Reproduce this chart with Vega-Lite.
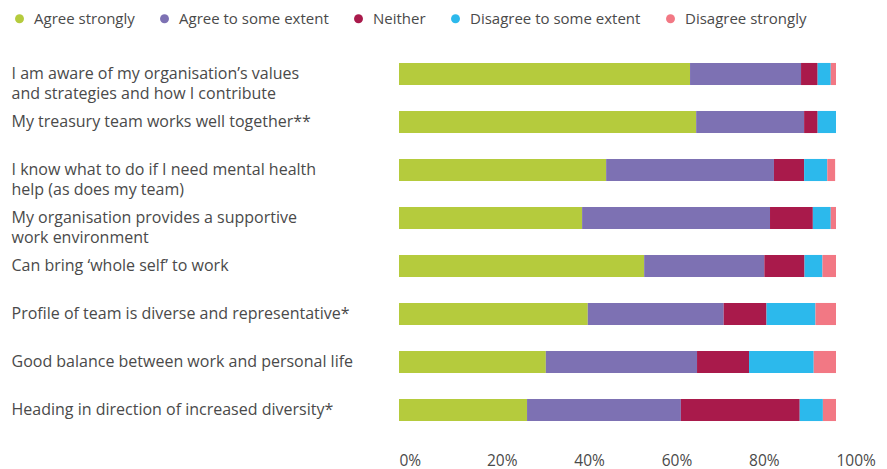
{
  "$schema": "https://vega.github.io/schema/vega-lite/v6.json",
  "width": 437,
  "height": 384,
  "autosize": {"type": "none"},
  "padding": {"left": 399, "top": 50, "right": 51, "bottom": 35},
  "background": "white",
  "config": {
    "view": {"stroke": null},
    "font": "Open Sans",
    "axis": {"labelFont": "Open Sans", "labelColor": "#4a4a4a"},
    "legend": {"labelFont": "Open Sans", "labelColor": "#4a4a4a"}
  },
  "data": {
    "values": [
      {"q": "I am aware of my organisation’s values|and strategies and how I contribute", "qi": 1, "cat": "Agree strongly", "k": 1, "v": 66.6},
      {"q": "I am aware of my organisation’s values|and strategies and how I contribute", "qi": 1, "cat": "Agree to some extent", "k": 2, "v": 25.4},
      {"q": "I am aware of my organisation’s values|and strategies and how I contribute", "qi": 1, "cat": "Neither", "k": 3, "v": 3.8},
      {"q": "I am aware of my organisation’s values|and strategies and how I contribute", "qi": 1, "cat": "Disagree to some extent", "k": 4, "v": 3.0},
      {"q": "I am aware of my organisation’s values|and strategies and how I contribute", "qi": 1, "cat": "Disagree strongly", "k": 5, "v": 1.2},
      {"q": "My treasury team works well together**", "qi": 2, "cat": "Agree strongly", "k": 1, "v": 68.0},
      {"q": "My treasury team works well together**", "qi": 2, "cat": "Agree to some extent", "k": 2, "v": 24.7},
      {"q": "My treasury team works well together**", "qi": 2, "cat": "Neither", "k": 3, "v": 3.1},
      {"q": "My treasury team works well together**", "qi": 2, "cat": "Disagree to some extent", "k": 4, "v": 4.2},
      {"q": "My treasury team works well together**", "qi": 2, "cat": "Disagree strongly", "k": 5, "v": 0},
      {"q": "I know what to do if I need mental health|help (as does my team)", "qi": 3, "cat": "Agree strongly", "k": 1, "v": 47.4},
      {"q": "I know what to do if I need mental health|help (as does my team)", "qi": 3, "cat": "Agree to some extent", "k": 2, "v": 38.4},
      {"q": "I know what to do if I need mental health|help (as does my team)", "qi": 3, "cat": "Neither", "k": 3, "v": 6.9},
      {"q": "I know what to do if I need mental health|help (as does my team)", "qi": 3, "cat": "Disagree to some extent", "k": 4, "v": 5.3},
      {"q": "I know what to do if I need mental health|help (as does my team)", "qi": 3, "cat": "Disagree strongly", "k": 5, "v": 1.8},
      {"q": "My organisation provides a supportive|work environment", "qi": 4, "cat": "Agree strongly", "k": 1, "v": 41.9},
      {"q": "My organisation provides a supportive|work environment", "qi": 4, "cat": "Agree to some extent", "k": 2, "v": 43.0},
      {"q": "My organisation provides a supportive|work environment", "qi": 4, "cat": "Neither", "k": 3, "v": 9.8},
      {"q": "My organisation provides a supportive|work environment", "qi": 4, "cat": "Disagree to some extent", "k": 4, "v": 4.1},
      {"q": "My organisation provides a supportive|work environment", "qi": 4, "cat": "Disagree strongly", "k": 5, "v": 1.2},
      {"q": "Can bring ‘whole self’ to work", "qi": 5, "cat": "Agree strongly", "k": 1, "v": 56.1},
      {"q": "Can bring ‘whole self’ to work", "qi": 5, "cat": "Agree to some extent", "k": 2, "v": 27.5},
      {"q": "Can bring ‘whole self’ to work", "qi": 5, "cat": "Neither", "k": 3, "v": 9.2},
      {"q": "Can bring ‘whole self’ to work", "qi": 5, "cat": "Disagree to some extent", "k": 4, "v": 4.1},
      {"q": "Can bring ‘whole self’ to work", "qi": 5, "cat": "Disagree strongly", "k": 5, "v": 3.1},
      {"q": "Profile of team is diverse and representative*", "qi": 6, "cat": "Agree strongly", "k": 1, "v": 43.2},
      {"q": "Profile of team is diverse and representative*", "qi": 6, "cat": "Agree to some extent", "k": 2, "v": 31.1},
      {"q": "Profile of team is diverse and representative*", "qi": 6, "cat": "Neither", "k": 3, "v": 9.8},
      {"q": "Profile of team is diverse and representative*", "qi": 6, "cat": "Disagree to some extent", "k": 4, "v": 11.2},
      {"q": "Profile of team is diverse and representative*", "qi": 6, "cat": "Disagree strongly", "k": 5, "v": 4.7},
      {"q": "Good balance between work and personal life", "qi": 7, "cat": "Agree strongly", "k": 1, "v": 33.6},
      {"q": "Good balance between work and personal life", "qi": 7, "cat": "Agree to some extent", "k": 2, "v": 34.6},
      {"q": "Good balance between work and personal life", "qi": 7, "cat": "Neither", "k": 3, "v": 11.9},
      {"q": "Good balance between work and personal life", "qi": 7, "cat": "Disagree to some extent", "k": 4, "v": 14.8},
      {"q": "Good balance between work and personal life", "qi": 7, "cat": "Disagree strongly", "k": 5, "v": 5.1},
      {"q": "Heading in direction of increased diversity*", "qi": 8, "cat": "Agree strongly", "k": 1, "v": 29.3},
      {"q": "Heading in direction of increased diversity*", "qi": 8, "cat": "Agree to some extent", "k": 2, "v": 35.2},
      {"q": "Heading in direction of increased diversity*", "qi": 8, "cat": "Neither", "k": 3, "v": 27.2},
      {"q": "Heading in direction of increased diversity*", "qi": 8, "cat": "Disagree to some extent", "k": 4, "v": 5.3},
      {"q": "Heading in direction of increased diversity*", "qi": 8, "cat": "Disagree strongly", "k": 5, "v": 3.0}
    ]
  },
  "mark": {"type": "bar"},
  "encoding": {
    "y": {
      "field": "q",
      "type": "nominal",
      "sort": {"field": "qi", "op": "min", "order": "ascending"},
      "scale": {"paddingInner": 0.54, "paddingOuter": 0.27},
      "axis": {
        "title": null,
        "domain": false,
        "ticks": false,
        "tickSize": 0,
        "labelAlign": "left",
        "labelBaseline": "top",
        "labelPadding": 388,
        "labelOffset": -8,
        "labelLimit": 390,
        "labelFontSize": 16,
        "labelLineHeight": 20,
        "labelExpr": "split(datum.value, '|')"
      }
    },
    "x": {
      "field": "v",
      "type": "quantitative",
      "stack": "zero",
      "scale": {"domain": [0, 100], "nice": false},
      "axis": {
        "title": null,
        "domain": false,
        "ticks": false,
        "tickSize": 0,
        "grid": false,
        "values": [0, 20, 40, 60, 80, 100],
        "labelExpr": "datum.value + '%'",
        "labelAlign": "left",
        "labelBaseline": "top",
        "labelPadding": 19,
        "labelFontSize": 15.5,
        "labelFlush": false,
        "labelOverlap": false
      }
    },
    "order": {"field": "k", "type": "quantitative"},
    "color": {
      "field": "cat",
      "type": "nominal",
      "scale": {
        "domain": ["Agree strongly", "Agree to some extent", "Neither", "Disagree to some extent", "Disagree strongly"],
        "range": ["#b5cb3d", "#7d71b3", "#a91a4b", "#2cb9ec", "#f27884"]
      },
      "legend": {
        "title": null,
        "orient": "none",
        "direction": "horizontal",
        "legendX": -387,
        "legendY": -39,
        "symbolType": "circle",
        "symbolSize": 80,
        "symbolStrokeWidth": 0,
        "labelFontSize": 15,
        "labelOffset": 7,
        "labelLimit": 300,
        "columnPadding": 22
      }
    }
  }
}
